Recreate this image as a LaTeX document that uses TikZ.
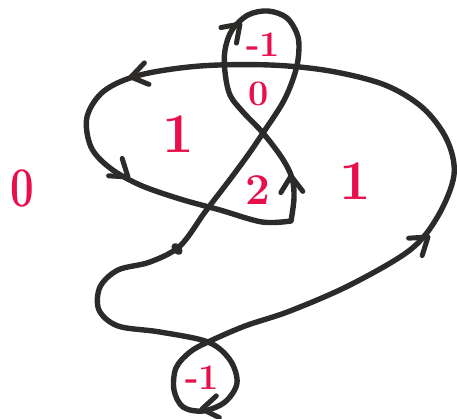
\documentclass[tikz,border=0pt]{standalone}
\usepackage{fontspec}
\definecolor{ink}{RGB}{45,43,41}
\definecolor{labred}{RGB}{232,16,76}
\begin{document}
\begin{tikzpicture}[x=1pt,y=-1pt,
  curve/.style={line width=5.4pt, draw=ink, line cap=round, line join=round},
  lab/.style={text=labred, inner sep=0pt, font=\bfseries\fontsize{56}{56}\selectfont},
  smalllab/.style={text=labred, inner sep=0pt, font=\bfseries\fontsize{36}{36}\selectfont},
  barb/.pic={\draw[line width=5pt, draw=ink, line cap=round, line join=round] (-16,-11) -- (0,0) -- (-16,11);}]
\useasboundingbox (0,0) rectangle (457,419);
\fill[white] (0,0) rectangle (457,419);
\draw[curve] plot[smooth, tension=0.55] coordinates {
 (291,221) (294,198) (292,178) (282,158) (263,133) (243,112) (230,95) (225,72)
 (225,50) (232,30) (248,15) (268,11) (287,18) (298,37) (298,60) (292,82) (282,104)
 (263,133) (248,155) (228,182) (205,212) (180,246) (150,262) (118,270)
 (100,287) (99,310) (118,326) (160,332) (208,342) (230,360) (237,383)
 (225,402) (203,411) (183,407) (174,390) (176,368) (190,352) (208,342)
 (245,326) (290,311) (350,285) (410,250) (438,216) (454,175) (447,140)
 (423,108) (385,85) (330,71) (270,65) (200,66) (140,75) (104,91) (87,117)
 (91,147) (110,168) (140,185) (180,199) (220,210) (262,222) (291,221)};
% arrowheads
\pic[rotate=38] at (428,237) {barb};
\pic[rotate=192] at (131,77) {barb};
\pic[rotate=-38] at (128,177) {barb};
\pic[rotate=93] at (291,176) {barb};
\pic[rotate=45] at (240,24) {barb};
\pic[rotate=188] at (202,409) {barb};
\fill[ink, rotate around={-50:(177,249)}] (177,249) ellipse (6.5pt and 4.5pt);
% labels
\node[smalllab] (ltop) at (263,45) {-1};
\node[smalllab] (ltopzero) at (259,94) {0};
\node[lab] (lleft) at (178,134) {1};
\node[lab, xscale=0.75] (lout) at (22,188) {0};
\node[lab, font=\bfseries\fontsize{44}{44}\selectfont] (ltwo) at (258,190) {2};
\node[lab] (lright) at (355,181) {1};
\node[smalllab] (lbot) at (202,378) {-1};
\end{tikzpicture}
\end{document}
